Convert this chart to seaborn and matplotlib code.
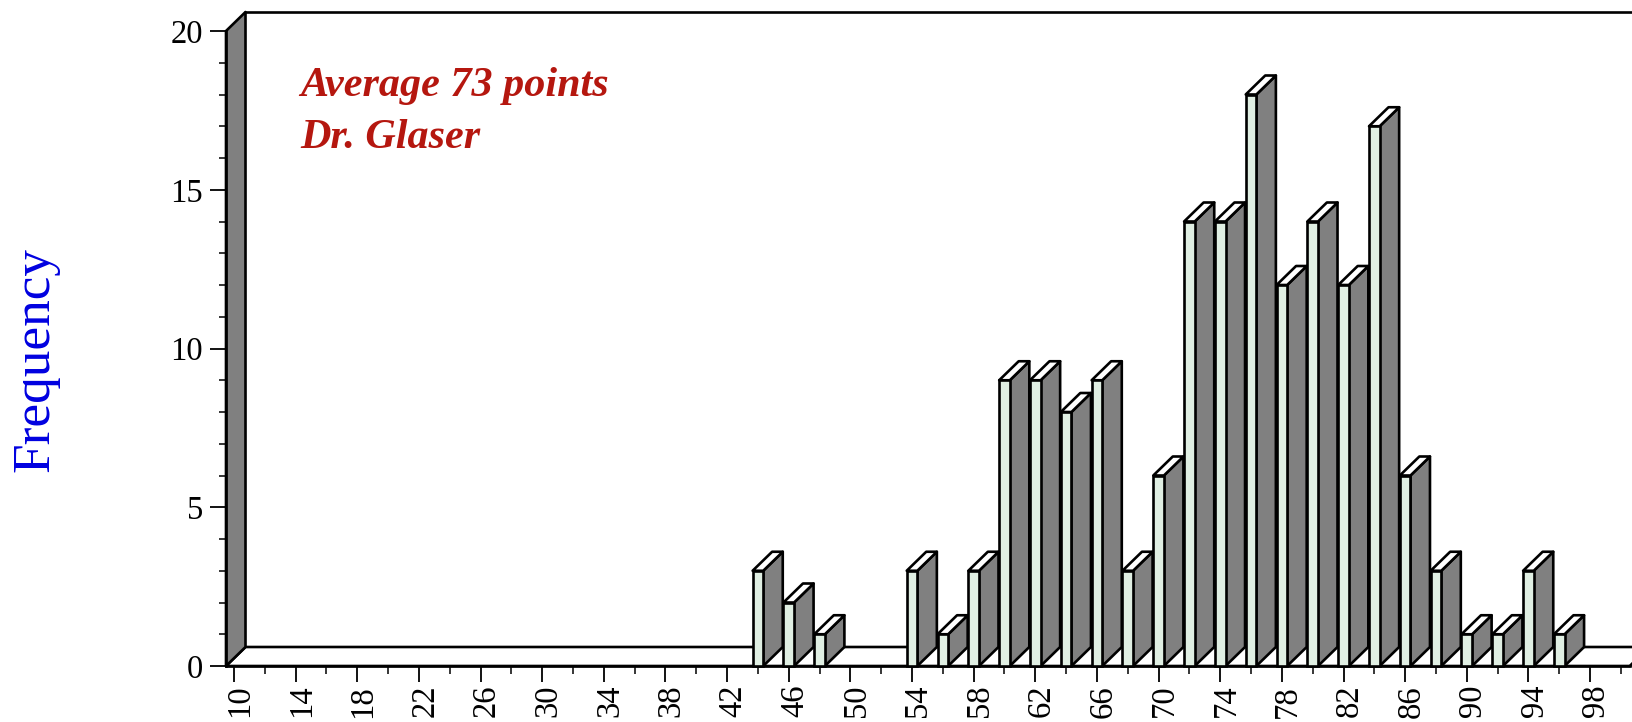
import matplotlib
matplotlib.use('Agg')
import matplotlib.pyplot as plt
from matplotlib.patches import Polygon
from matplotlib.transforms import ScaledTranslation
import pandas as pd
import seaborn as sns

scores = [44, 46, 48, 54, 56, 58, 60, 62, 64, 66, 68, 70, 72, 74, 76, 78, 80, 82, 84, 86, 88, 90, 92, 94, 96]
frequency = [3, 2, 1, 3, 1, 3, 9, 9, 8, 9, 3, 6, 14, 14, 18, 12, 14, 12, 17, 6, 3, 1, 1, 3, 1]
major_x = list(range(10, 99, 4))
minor_x = list(range(12, 101, 4))
major_y = [0, 5, 10, 15, 20]
minor_y = [v for v in range(0, 21) if v % 5]
note_lines = ['Average 73 points', 'Dr. Glaser']

# pixel layout of the reference
W, H = 1633, 722
X0, X1 = 226, 1630
Y0, Y20 = 666, 31
PX_PER_X = 15.41
XMIN = 10 - (234 - X0) / PX_PER_X
XMAX = XMIN + (X1 - X0) / PX_PER_X
DX = 19.5 / PX_PER_X
DY = 19 / ((Y0 - Y20) / 20)
LW = 1.9

FRONT = '#e0efe3'
SIDE = '#808080'


def face(ax, points, color, zorder):
    ax.add_patch(Polygon(points, closed=True, facecolor=color, edgecolor='black',
                         linewidth=LW, joinstyle='round', clip_on=False, zorder=zorder))


def draw_box(ax):
    # back floor, left wall and the lines of the back wall
    face(ax, [(XMIN, 0), (XMAX, 0), (XMAX + DX, DY), (XMIN + DX, DY)], 'white', 1)
    face(ax, [(XMIN, 0), (XMIN + DX, DY), (XMIN + DX, 20 + DY), (XMIN, 20)], SIDE, 1.5)
    ax.plot([XMIN + DX, XMAX + DX], [20 + DY, 20 + DY], color='black', lw=LW, clip_on=False, zorder=1)


def add_depth(ax):
    for i, bar in enumerate(ax.patches):
        x, w, h = bar.get_x(), bar.get_width(), bar.get_height()
        r = x + w
        z = 3 + i
        face(ax, [(r, 0), (r + DX, DY), (r + DX, h + DY), (r, h)], SIDE, z)
        face(ax, [(x, h), (r, h), (r + DX, h + DY), (x + DX, h + DY)], 'white', z)
        bar.set_zorder(z + 0.5)


def main():
    sns.set_style('white')
    plt.rcParams['font.family'] = ['Liberation Serif', 'DejaVu Serif']

    fig = plt.figure(figsize=(W / 100, H / 100), dpi=100)
    ax = fig.add_axes([X0 / W, 1 - Y0 / H, (X1 - X0) / W, (Y0 - Y20) / H])

    data = pd.DataFrame({'score': scores, 'frequency': frequency})
    sns.barplot(data=data, x='score', y='frequency', native_scale=True, width=0.345,
                color=FRONT, saturation=1, edgecolor='black', linewidth=LW, ax=ax)
    bars = list(ax.patches)
    for bar in bars:
        bar.set_clip_on(False)
    add_depth(ax)
    draw_box(ax)

    ax.set_xlim(XMIN, XMAX)
    ax.set_ylim(0, 20)
    ax.set_xlabel('')
    ax.set_ylabel('')
    ax.patch.set_alpha(0)
    sns.despine(ax=ax)
    for side in ['left', 'bottom']:
        ax.spines[side].set_linewidth(LW)
        ax.spines[side].set_color('black')

    ax.set_xticks(major_x, [str(v) for v in major_x])
    ax.set_xticks(minor_x, minor=True)
    ax.set_yticks(major_y, [str(v) for v in major_y])
    ax.set_yticks(minor_y, minor=True)
    ax.tick_params(which='major', direction='out', length=11.5, width=1.3, color='black',
                   left=True, bottom=True, labelsize=23.5, labelcolor='black')
    ax.tick_params(axis='x', which='minor', direction='out', length=5.5, width=1.3, bottom=True)
    ax.tick_params(axis='y', which='minor', direction='out', length=5, width=1.3, left=True)
    ax.tick_params(axis='x', which='major', pad=2)
    ax.tick_params(axis='y', which='major', pad=5)

    nudge = ScaledTranslation(6 / 100, 0, fig.dpi_scale_trans)
    for label in ax.get_xticklabels():
        label.set_rotation(90)
        label.set_transform(label.get_transform() + nudge)

    fig.text(35 / W, 1 - 359 / H, 'Frequency', color='#0000e0', fontsize=38.3,
             rotation=90, ha='center', va='center')
    for line, base in zip(note_lines, [96, 148]):
        fig.text(300 / W, 1 - base / H, line, color='#b5170f', fontsize=30.3, fontweight='bold',
                 fontstyle='italic', ha='left', va='baseline')

    # right end of the floor runs out of the picture
    ax.plot([XMAX, XMAX + DX], [0, DY], color='black', lw=LW, clip_on=False, zorder=1)

    fig.savefig('out.png', dpi=100, facecolor='white')


if __name__ == '__main__':
    main()
